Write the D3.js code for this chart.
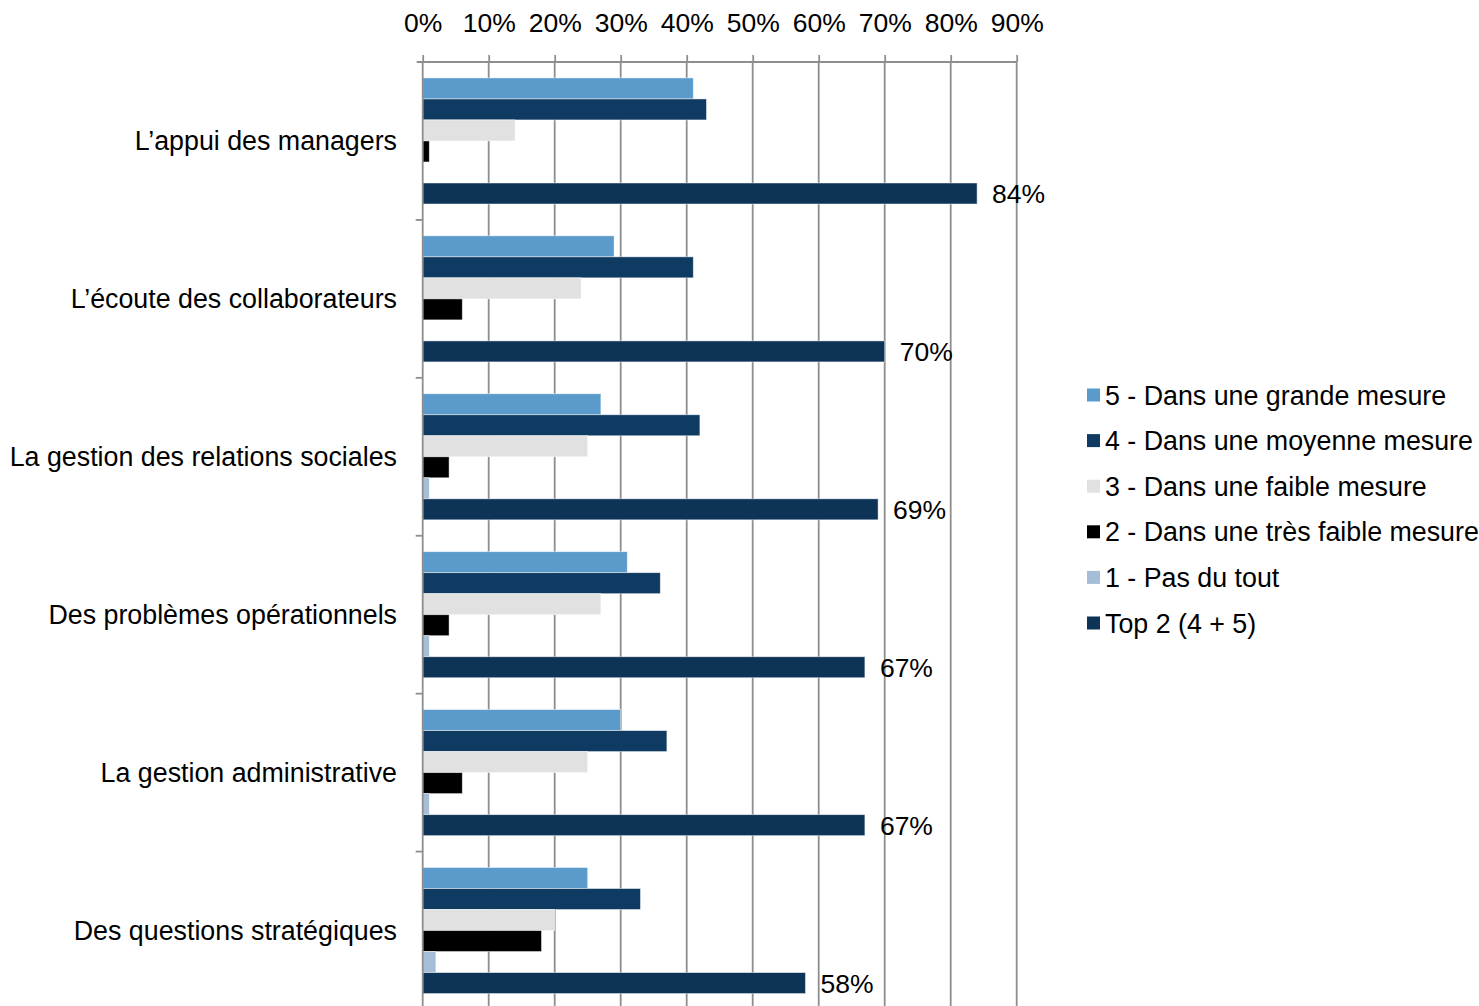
<!DOCTYPE html>
<html><head><meta charset="utf-8">
<script src="https://cdn.jsdelivr.net/npm/d3@7"></script>
<style>body{margin:0;background:#fff}svg{display:block}text{font-family:"Liberation Sans",Arial,sans-serif;fill:#000}</style>
</head><body>
<svg id="c" width="1479" height="1006"></svg>
<script>
const categories = ["L’appui des managers","L’écoute des collaborateurs","La gestion des relations sociales","Des problèmes opérationnels","La gestion administrative","Des questions stratégiques"];
const seriesNames = ["5 - Dans une grande mesure","4 - Dans une moyenne mesure","3 - Dans une faible mesure","2 - Dans une très faible mesure","1 - Pas du tout","Top 2 (4 + 5)"];
const s5 = [0.41,0.29,0.27,0.31,0.30,0.25];
const s4 = [0.43,0.41,0.42,0.36,0.37,0.33];
const s3 = [0.14,0.24,0.25,0.27,0.25,0.20];
const s2 = [0.01,0.06,0.04,0.04,0.06,0.18];
const s1 = [0.00,0.00,0.01,0.01,0.01,0.02];
const top2 = [0.84,0.70,0.69,0.67,0.67,0.58];
const tickValues = [0,0.1,0.2,0.3,0.4,0.5,0.6,0.7,0.8,0.9];
const colors = ["#5B9BCC","#0F3B62","#E1E1E1","#000000","#A6BDD8","#0D3457"];

const seriesData = [s5,s4,s3,s2,s1,top2];
const svg = d3.select("#c");
const fs = 26.5;
const catFs = 26.8;
const x = d3.scaleLinear().domain([0,0.9]).range([422.7,1016.7]);
const y0 = d3.scaleBand().domain(categories).range([62,1009.5]);
const y1 = d3.scaleBand().domain(seriesNames).range([0,y0.bandwidth()]).paddingOuter(0.757);
const grid = "#8E8E8E";

// gridlines
svg.append("g").selectAll("line").data(tickValues.slice(1)).join("line")
  .attr("x1",d=>x(d)).attr("x2",d=>x(d)).attr("y1",62).attr("y2",1006)
  .attr("stroke",grid).attr("stroke-width",1.8);

// bars
const groups = svg.append("g").selectAll("g").data(categories).join("g")
  .attr("transform",c=>`translate(0,${y0(c)})`);
groups.selectAll("rect").data((c,i)=>seriesNames.map((s,j)=>({s,j,v:seriesData[j][i]}))).join("rect")
  .attr("x",x(0)).attr("y",d=>y1(d.s)).attr("height",y1.bandwidth())
  .attr("width",d=>x(d.v)-x(0)).attr("fill",d=>colors[d.j])
  .attr("stroke",d=>d.v>0?"rgba(255,255,255,0.6)":"none").attr("stroke-width",0.8);

// top axis
const ax = svg.append("g").attr("transform","translate(0,62)")
  .call(d3.axisTop(x).tickValues(tickValues).tickFormat(d3.format(".0%")).tickSize(7).tickSizeOuter(0).tickPadding(23));
ax.select(".domain").attr("stroke",grid).attr("stroke-width",1.8).attr("d",`M${x(0)-6},0H${x(0.9)}`);
ax.selectAll(".tick line").attr("stroke",grid).attr("stroke-width",1.8);
ax.selectAll(".tick text").style("font-size",fs+"px").style("font-family","Liberation Sans, Arial, sans-serif").attr("fill","#000");

// left axis
svg.append("line").attr("x1",x(0)).attr("x2",x(0)).attr("y1",62).attr("y2",1006).attr("stroke",grid).attr("stroke-width",1.8);
svg.append("g").selectAll("line").data(categories.slice(1)).join("line")
  .attr("x1",x(0)-7).attr("x2",x(0)).attr("y1",c=>y0(c)).attr("y2",c=>y0(c)).attr("stroke",grid).attr("stroke-width",1.8);
svg.append("g").selectAll("text").data(categories).join("text")
  .attr("x",397).attr("y",c=>y0(c)+y0.bandwidth()/2).attr("text-anchor","end").attr("dy","0.35em")
  .style("font-size",catFs+"px").text(c=>c);

// top2 labels
svg.append("g").selectAll("text").data(categories).join("text")
  .attr("x",(c,i)=>x(top2[i])+15).attr("y",c=>y0(c)+y1(seriesNames[5])+y1.bandwidth()/2)
  .attr("dy","0.36em").style("font-size",fs+"px").text((c,i)=>d3.format(".0%")(top2[i]));

// legend
const lg = svg.append("g").selectAll("g").data(seriesNames).join("g")
  .attr("transform",(d,i)=>`translate(1087,${395+i*45.6})`);
lg.append("rect").attr("x",0).attr("y",-6.5).attr("width",13).attr("height",13).attr("fill",(d,i)=>colors[i]);
lg.append("text").attr("x",18).attr("y",0).attr("dy","0.36em").style("font-size",catFs+"px").text(d=>d);
</script>
</body></html>
